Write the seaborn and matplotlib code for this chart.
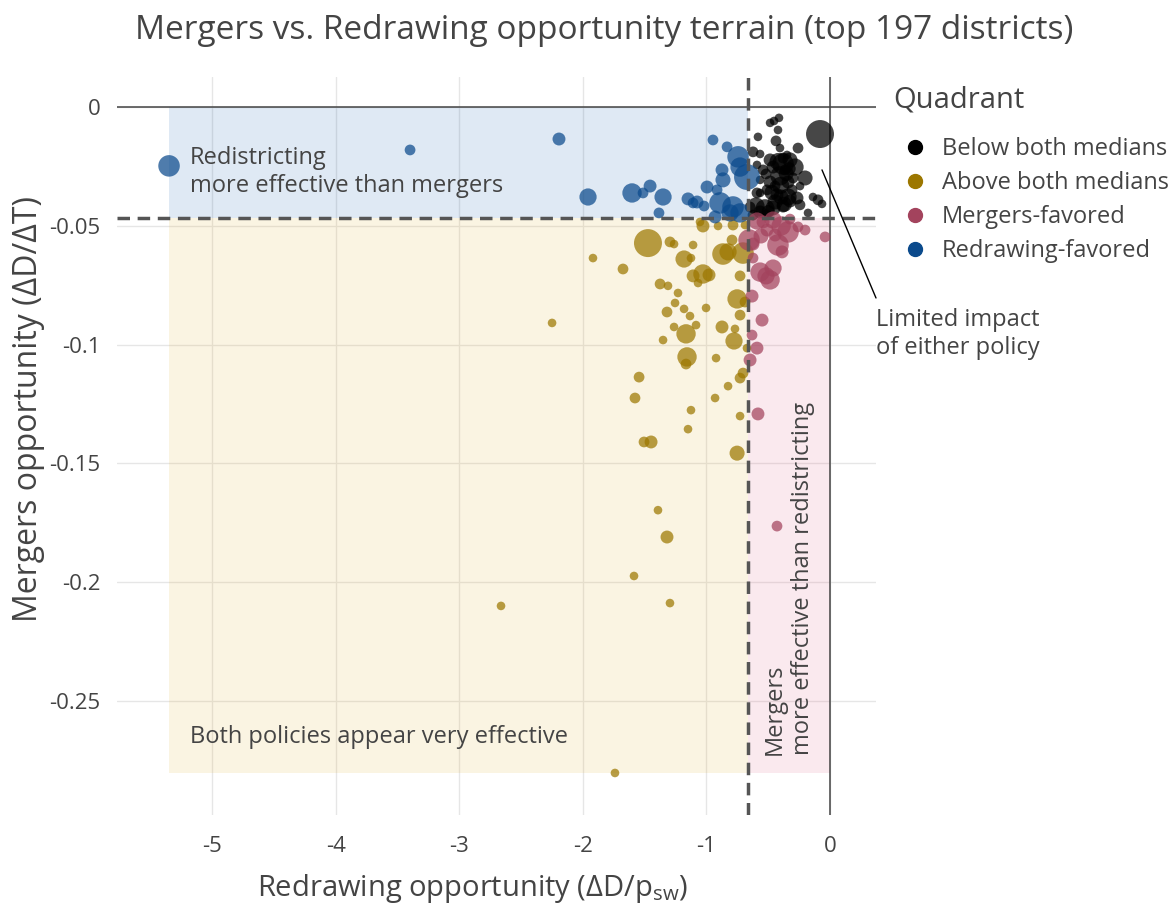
import numpy as np
import pandas as pd
import seaborn as sns
import matplotlib.pyplot as plt
from matplotlib.patches import Rectangle
from matplotlib.lines import Line2D

quadrants = ['Below both medians', 'Above both medians', 'Mergers-favored', 'Redrawing-favored']
palette = ['#000000', '#9c7700', '#a3435d', '#0b4a8c']

# medians of the two opportunity measures
x_median = -0.663
y_median = -0.0467

below_x = [-0.485, -0.453, -0.413, -0.421, -0.081, -0.583, -0.437, -0.259, -0.405, -0.623,
           -0.566, -0.380, -0.348, -0.380, -0.283, -0.542, -0.518, -0.461, -0.405, -0.202,
           -0.485, -0.340, -0.510, -0.566, -0.591, -0.429, -0.396, -0.340, -0.267, -0.324,
           -0.138, -0.097, -0.065, -0.599, -0.526, -0.461, -0.380, -0.647, -0.623, -0.518,
           -0.178, -0.307, -0.243, -0.445, -0.364, -0.299, -0.566, -0.591, -0.324, -0.485,
           -0.243, -0.566, -0.420, -0.355, -0.470, -0.400, -0.330, -0.445, -0.500, -0.370]
below_y = [-0.0067, -0.0059, -0.0046, -0.0097, -0.0114, -0.0126, -0.0143, -0.0173, -0.0173, -0.0189,
           -0.0198, -0.0215, -0.0202, -0.0240, -0.0253, -0.0265, -0.0282, -0.0253, -0.0290, -0.0299,
           -0.0316, -0.0316, -0.0349, -0.0362, -0.0362, -0.0370, -0.0379, -0.0379, -0.0383, -0.0396,
           -0.0379, -0.0391, -0.0408, -0.0417, -0.0429, -0.0425, -0.0417, -0.0421, -0.0455, -0.0455,
           -0.0446, -0.0349, -0.0333, -0.0333, -0.0265, -0.0299, -0.0307, -0.0244, -0.0223, -0.0223,
           -0.0412, -0.0442, -0.0230, -0.0280, -0.0360, -0.0330, -0.0260, -0.0400, -0.0440, -0.0410]
below_w = [16, 16, 16, 16, 169, 16, 25, 25, 16, 25,
           16, 25, 16, 100, 64, 25, 25, 36, 81, 49,
           36, 36, 25, 16, 25, 36, 49, 64, 36, 36,
           16, 25, 16, 64, 81, 49, 36, 25, 25, 25,
           16, 25, 16, 25, 25, 25, 16, 16, 49, 36,
           25, 36, 64, 49, 49, 64, 36, 49, 36, 49]

above_x = [-1.028, -1.473, -1.295, -1.262, -1.108, -0.906, -0.785, -1.918, -1.675, -1.181,
           -1.125, -0.866, -0.825, -0.793, -0.704, -1.028, -1.108, -0.979, -1.068, -1.375,
           -1.311, -1.230, -0.728, -1.254, -1.319, -1.181, -1.003, -0.752, -0.688, -0.728,
           -2.249, -1.262, -1.165, -1.084, -0.874, -0.769, -0.777, -1.351, -1.157, -1.165,
           -0.922, -0.672, -1.545, -0.728, -0.704, -0.825, -1.578, -0.930, -1.125, -0.728,
           -1.149, -1.505, -1.448, -0.752, -1.392, -1.319, -1.586, -1.295, -2.662, -1.740,
           -1.133, -1.052, -0.688]
above_y = [-0.0501, -0.0573, -0.0568, -0.0577, -0.0581, -0.0501, -0.0497, -0.0636, -0.0682, -0.0640,
           -0.0636, -0.0619, -0.0610, -0.0560, -0.0615, -0.0703, -0.0711, -0.0707, -0.0741, -0.0745,
           -0.0753, -0.0783, -0.0711, -0.0825, -0.0863, -0.0850, -0.0846, -0.0808, -0.0821, -0.0876,
           -0.0909, -0.0926, -0.0955, -0.0918, -0.0926, -0.0934, -0.0985, -0.0981, -0.1052, -0.1082,
           -0.1057, -0.1015, -0.1137, -0.1141, -0.1120, -0.1175, -0.1225, -0.1225, -0.1276, -0.1301,
           -0.1356, -0.1410, -0.1410, -0.1457, -0.1697, -0.1810, -0.1974, -0.2088, -0.2100, -0.2803,
           -0.0880, -0.0484, -0.0497]
above_w = [36, 169, 25, 16, 16, 16, 25, 16, 25, 64,
           16, 100, 64, 25, 100, 81, 36, 36, 16, 25,
           16, 16, 25, 16, 25, 16, 16, 81, 25, 25,
           16, 16, 81, 16, 36, 16, 64, 16, 81, 25,
           16, 16, 25, 25, 25, 16, 25, 16, 16, 16,
           16, 25, 36, 49, 16, 36, 16, 16, 16, 16,
           16, 16, 16]

mergers_x = [-0.591, -0.461, -0.396, -0.510, -0.340, -0.259, -0.040, -0.655, -0.421, -0.388,
             -0.623, -0.623, -0.566, -0.518, -0.461, -0.485, -0.631, -0.550, -0.631, -0.591,
             -0.647, -0.583, -0.429, -0.542, -0.324, -0.202, -0.558, -0.445]
mergers_y = [-0.0480, -0.0476, -0.0501, -0.0518, -0.0526, -0.0505, -0.0547, -0.0560, -0.0581, -0.0610,
             -0.0577, -0.0636, -0.0695, -0.0711, -0.0678, -0.0728, -0.0796, -0.0897, -0.0960, -0.1015,
             -0.1065, -0.1292, -0.1764, -0.0484, -0.0472, -0.0518, -0.0543, -0.0539]
mergers_w = [64, 64, 81, 36, 100, 25, 25, 100, 100, 36,
             36, 25, 81, 64, 64, 81, 36, 36, 25, 36,
             36, 36, 25, 36, 25, 25, 49, 36]

redraw_x = [-5.348, -3.398, -2.193, -1.958, -1.602, -1.513, -1.456, -1.351, -1.384, -1.149,
            -1.108, -1.076, -1.019, -0.995, -0.947, -0.833, -0.744, -0.728, -0.672, -0.874,
            -0.866, -0.914, -0.890, -0.785, -0.728, -0.809, -0.930]
redraw_y = [-0.0248, -0.0181, -0.0135, -0.0379, -0.0362, -0.0362, -0.0333, -0.0379, -0.0446, -0.0387,
            -0.0404, -0.0400, -0.0417, -0.0337, -0.0139, -0.0168, -0.0210, -0.0253, -0.0295, -0.0265,
            -0.0307, -0.0349, -0.0404, -0.0421, -0.0446, -0.0446, -0.0463]
redraw_w = [100, 25, 36, 64, 81, 25, 36, 64, 25, 36,
            25, 36, 25, 36, 25, 25, 100, 81, 144, 36,
            49, 25, 100, 100, 81, 64, 36]

frames = []
for q, xs, ys, ws in zip(quadrants,
                         [below_x, above_x, mergers_x, redraw_x],
                         [below_y, above_y, mergers_y, redraw_y],
                         [below_w, above_w, mergers_w, redraw_w]):
    frames.append(pd.DataFrame({'redraw': xs, 'merge': ys, 'weight': ws, 'quadrant': q}))
df = pd.concat(frames, ignore_index=True)

sns.set_style('white')
plt.rcParams['font.family'] = ['Open Sans', 'DejaVu Sans']
plt.rcParams['mathtext.fontset'] = 'custom'
plt.rcParams['mathtext.rm'] = 'Open Sans'
txt = '#444444'

fig = plt.figure(figsize=(11.76, 9.07), dpi=100)
ax = fig.add_axes([0.0995, 0.1014, 0.6454, 0.8137])

xmin, ymin = df['redraw'].min(), df['merge'].min()
ax.add_patch(Rectangle((xmin, y_median), x_median - xmin, -y_median,
                       facecolor='#296cb6', alpha=0.15, lw=0, zorder=1))
ax.add_patch(Rectangle((xmin, ymin), x_median - xmin, y_median - ymin,
                       facecolor='#e4b63e', alpha=0.15, lw=0, zorder=1))
ax.add_patch(Rectangle((x_median, ymin), -x_median, y_median - ymin,
                       facecolor='#e46c8e', alpha=0.15, lw=0, zorder=1))

ax.axhline(0, color='#444444', lw=1.1, zorder=1.5)
ax.axvline(0, color='#444444', lw=1.1, zorder=1.5)

sns.scatterplot(data=df, x='redraw', y='merge', hue='quadrant', hue_order=quadrants,
                palette=palette, size='weight', sizes=(2.4 * 16, 2.4 * 169),
                size_norm=(16, 169), alpha=0.72, linewidth=0, legend=False, ax=ax, zorder=2)

ax.axvline(x_median, color='#555555', lw=2.5, ls=(0, (3.6, 2.2)), zorder=3)
ax.axhline(y_median, color='#555555', lw=2.5, ls=(0, (3.6, 2.2)), zorder=3)

ax.set_xlim(-5.769, 0.372)
ax.set_ylim(-0.298, 0.0126)
xt = [-5, -4, -3, -2, -1, 0]
yt = [0, -0.05, -0.1, -0.15, -0.2, -0.25]
ax.set_xticks(xt)
ax.set_xticklabels([f'{v:g}' for v in xt])
ax.set_yticks(yt)
ax.set_yticklabels([f'{v:g}' for v in yt])
ax.tick_params(length=0, labelsize=16, colors=txt)
ax.tick_params(axis='x', pad=15)
ax.tick_params(axis='y', pad=12)
ax.grid(True, color='#e6e6e6', lw=1)
ax.set_axisbelow(True)
for s in ax.spines.values():
    s.set_visible(False)

ax.set_xlabel(r'Redrawing opportunity (ΔD/p$_\mathregular{sw}$)', fontsize=21, color=txt, va='center')
ax.xaxis.set_label_coords(0.469, -0.099)
ax.set_ylabel('Mergers opportunity (ΔD/ΔT)', fontsize=23, color=txt)
ax.yaxis.set_label_coords(-0.095, 0.55)
fig.suptitle('Mergers vs. Redrawing opportunity terrain (top 197 districts)',
             fontsize=24, color=txt, x=0.514, y=0.985)

ax.text(-5.18, -0.0274, 'Redistricting\nmore effective than mergers', fontsize=17,
        color=txt, ha='left', va='center', zorder=4)
ax.text(-5.18, -0.265, 'Both policies appear very effective', fontsize=17,
        color=txt, ha='left', va='center', zorder=4)
ax.text(-0.332, -0.2727, 'Mergers\nmore effective than redistricting', fontsize=17,
        color=txt, rotation=90, ha='center', va='bottom', multialignment='left', zorder=4)
ax.plot([-0.065, 0.372], [-0.0265, -0.0804], color='black', lw=1, clip_on=False, zorder=4)
ax.text(0.372, -0.0955, 'Limited impact\nof either policy', fontsize=17, color=txt,
        ha='left', va='center', zorder=4, clip_on=False)

fig.text(893 / 1176, 1 - 100 / 907, 'Quadrant', fontsize=21, color=txt, ha='left', va='center')
handles = [Line2D([], [], marker='o', ls='', color=c, markersize=10) for c in palette]
fig.legend(handles, quadrants, loc='upper left', bbox_to_anchor=(903 / 1176, 1 - 137 / 907),
           frameon=False, fontsize=17, labelcolor=txt, handlelength=1.0,
           handletextpad=0.65, labelspacing=0.43, borderpad=0, borderaxespad=0)

fig.savefig('out.png', dpi=100)
